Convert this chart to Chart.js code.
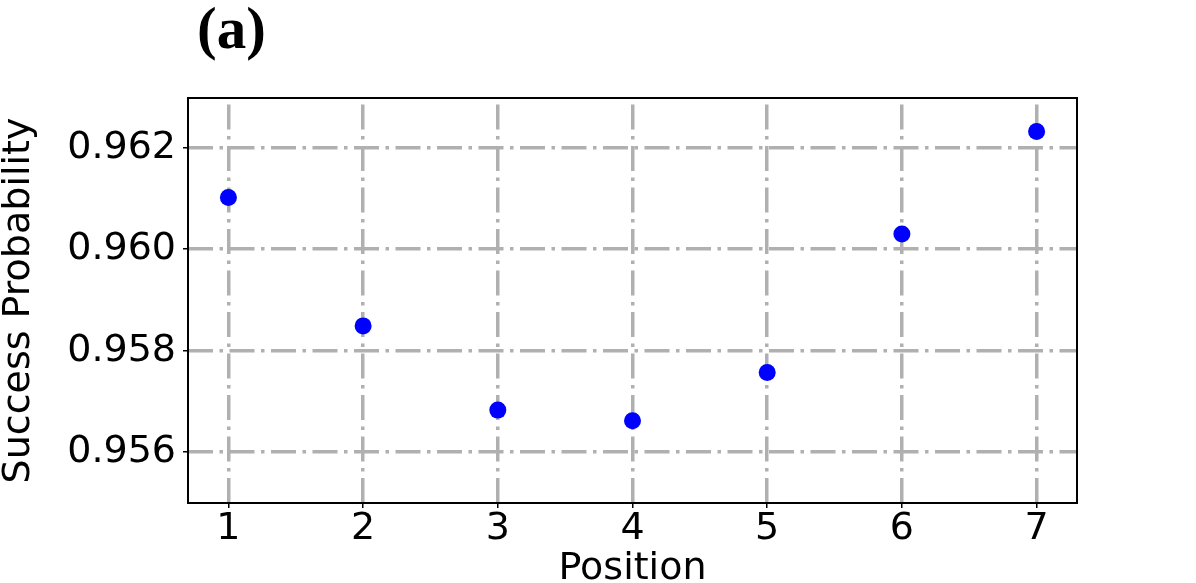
<!DOCTYPE html>
<html>
<head>
<meta charset="utf-8">
<script src="https://cdn.jsdelivr.net/npm/chart.js@4.4.1/dist/chart.umd.min.js"></script>
<style>
  html, body { margin: 0; padding: 0; background: #ffffff; }
  #c { display: block; }
</style>
</head>
<body>
<canvas id="c" width="1196" height="583"></canvas>
<script>
// ---- data ----
const positions = [1, 2, 3, 4, 5, 6, 7];
const successProb = [0.96102, 0.95849, 0.95683, 0.95662, 0.95757, 0.96030, 0.96232];
const xTickValues = [1, 2, 3, 4, 5, 6, 7];
const yTickValues = [0.956, 0.958, 0.960, 0.962];
const panelLabel = "(a)";
const xTitle = "Position";
const yTitle = "Success Probability";

const points = positions.map((p, i) => ({ x: p, y: successProb[i] }));

const FONT = "'DejaVu Sans', sans-serif";
const GRID = '#b0b0b0';
const DASH = [25, 6.5, 3.5, 6.5];

const framePlugin = {
  id: 'frame',
  afterDatasetsDraw(chart) {
    const { ctx, chartArea: a } = chart;
    ctx.save();
    ctx.strokeStyle = '#000';
    ctx.lineWidth = 2;
    ctx.setLineDash([]);
    ctx.strokeRect(a.left, a.top, a.right - a.left, a.bottom - a.top);
    ctx.restore();
  }
};

const panelPlugin = {
  id: 'panel',
  afterDraw(chart) {
    const { ctx, chartArea: a } = chart;
    ctx.save();
    ctx.fillStyle = '#000';
    ctx.font = "bold 59px 'Liberation Serif', 'Times New Roman', serif";
    ctx.textAlign = 'left';
    ctx.textBaseline = 'alphabetic';
    ctx.fillText(panelLabel, a.left + 9, a.top - 50);
    ctx.restore();
  }
};

new Chart(document.getElementById('c'), {
  type: 'scatter',
  data: {
    datasets: [{
      data: points,
      backgroundColor: '#0000ff',
      borderWidth: 0,
      pointRadius: 8.5,
      pointHoverRadius: 8.5
    }]
  },
  options: {
    responsive: false,
    animation: false,
    devicePixelRatio: 1,
    layout: { padding: { top: 98, right: 119, left: 0, bottom: 0 } },
    plugins: {
      legend: { display: false },
      tooltip: { enabled: false },
      title: { display: false }
    },
    scales: {
      x: {
        type: 'linear',
        min: 0.7,
        max: 7.3,
        afterBuildTicks(scale) { scale.ticks = xTickValues.map(v => ({ value: v })); },
        afterFit(scale) { scale.height = 80; },
        ticks: {
          color: '#000',
          font: { family: FONT, size: 38 },
          padding: -2,
          maxRotation: 0,
          callback: v => String(v)
        },
        grid: {
          color: GRID,
          lineWidth: 3.5,
          drawTicks: true,
          tickLength: 5,
          tickColor: '#000',
          tickWidth: 1.5,
          tickBorderDash: []
        },
        border: { display: false, color: '#000', width: 2, dash: DASH, dashOffset: 35 },
        title: {
          display: true,
          text: xTitle,
          color: '#000',
          font: { family: FONT, size: 38, lineHeight: 0.75 },
          padding: { top: 0, bottom: 0 }
        }
      },
      y: {
        type: 'linear',
        min: 0.955,
        max: 0.96298,
        afterBuildTicks(scale) { scale.ticks = yTickValues.map(v => ({ value: v })); },
        afterFit(scale) { scale.width = 188; },
        ticks: {
          color: '#000',
          font: { family: FONT, size: 38 },
          padding: 7,
          callback: v => Number(v).toFixed(3)
        },
        grid: {
          color: GRID,
          lineWidth: 3.5,
          drawTicks: true,
          tickLength: 5,
          tickColor: '#000',
          tickWidth: 1.5,
          tickBorderDash: []
        },
        border: { display: false, color: '#000', width: 2, dash: DASH, dashOffset: 0 },
        title: {
          display: true,
          text: yTitle,
          color: '#000',
          font: { family: FONT, size: 38, lineHeight: 1 },
          padding: { top: 0, bottom: 0 }
        }
      }
    }
  },
  plugins: [framePlugin, panelPlugin]
});
</script>
</body>
</html>
